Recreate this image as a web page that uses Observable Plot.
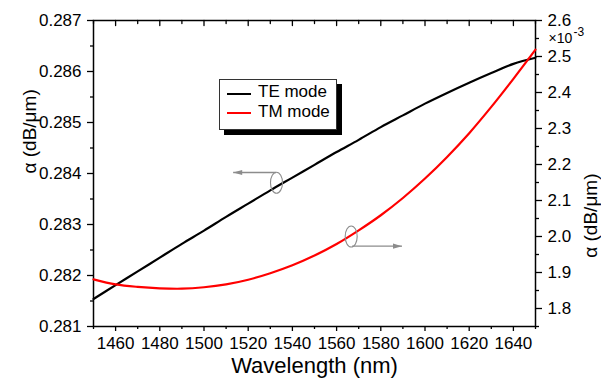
<!DOCTYPE html>
<html>
<head>
<meta charset="utf-8">
<script src="https://cdn.jsdelivr.net/npm/d3@7"></script>
<script src="https://cdn.jsdelivr.net/npm/@observablehq/plot@0.6"></script>
<style>
html, body { margin: 0; padding: 0; background: #fff; }
#wrap { position: relative; width: 601px; height: 382px; overflow: hidden; font-family: "Liberation Sans", Arial, sans-serif; }
#legend { position: absolute; left: 219px; top: 79px; width: 118px; height: 51px; box-sizing: border-box; border: 1px solid #333; background: #fff; box-shadow: 5px 5px 0 #000; }
.sw { position: absolute; left: 7px; width: 24px; height: 2px; }
.lt { position: absolute; left: 38px; font-size: 17px; line-height: 17px; white-space: nowrap; color: #000; }
</style>
</head>
<body>
<div id="wrap"></div>
<script>
// ---- data ----
const wavelength = [1450,1460,1470,1480,1490,1500,1510,1520,1530,1540,1550,1560,1570,1580,1590,1600,1610,1620,1630,1640,1650];
const teAlpha = [0.28154,0.28181,0.28208,0.28235,0.28262,0.28288,0.28315,0.28341,0.28367,0.28392,0.28417,0.28442,0.28466,0.28491,0.28514,0.28537,0.28558,0.28578,0.28597,0.28615,0.28627];
const tmAlpha = [1.881,1.867,1.860,1.856,1.855,1.859,1.867,1.880,1.898,1.920,1.947,1.979,2.017,2.059,2.107,2.161,2.221,2.287,2.360,2.438,2.519]; // ×10^-3 dB/µm
const seriesNames = ["TE mode", "TM mode"];
const seriesColors = ["#000000", "#ff0000"];

const xDomain = [1450, 1650];
const leftDomain = [0.281, 0.287];
const rightDomain = [1.75, 2.6];

const xMajor = [1460,1480,1500,1520,1540,1560,1580,1600,1620,1640];
const xMinor = [1450,1470,1490,1510,1530,1550,1570,1590,1610,1630,1650];
const leftMajor = [0.281,0.282,0.283,0.284,0.285,0.286,0.287];
const leftMinor = [0.2815,0.2825,0.2835,0.2845,0.2855,0.2865];
const rightMajor = [1.8,1.9,2.0,2.1,2.2,2.3,2.4,2.5,2.6];
const rightMinor = [1.75,1.85,1.95,2.05,2.15,2.25,2.35,2.45,2.55];

const xLabel = "Wavelength (nm)";
const yLabel = "α (dB/μm)";
const rightMultBase = "×10";
const rightMultExp = "-3";

// annotation marks (ellipse on curve + arrow pointing to its axis)
const ellipseX = [1532.8, 1566.6];
const ellipseV = [0.28382, 2.0];
const ellipseAxis = ["left", "right"];
const arrowFrom = [1532.6, 1567.0];
const arrowTo = [1513.2, 1589.6];
const arrowV = [0.28402, 1.973];

// ---- helpers ----
const toLeft = v => leftDomain[0] + (v - rightDomain[0]) / (rightDomain[1] - rightDomain[0]) * (leftDomain[1] - leftDomain[0]);
const fromLeft = v => rightDomain[0] + (v - leftDomain[0]) / (leftDomain[1] - leftDomain[0]) * (rightDomain[1] - rightDomain[0]);
const onLeft = (v, ax) => ax === "left" ? v : toLeft(v);

const te = wavelength.map((w, i) => ({w, v: teAlpha[i]}));
const tm = wavelength.map((w, i) => ({w, v: toLeft(tmAlpha[i])}));

const ellipses = ellipseX.map((x, i) => ({x, y: onLeft(ellipseV[i], ellipseAxis[i])}));
const arrows = arrowFrom.map((x1, i) => ({x1, x2: arrowTo[i], y: onLeft(arrowV[i], ellipseAxis[i])}));

const ellipseSymbol = {
  draw(ctx) {
    const rx = 6, ry = 10.5, k = 0.5523;
    ctx.moveTo(rx, 0);
    ctx.bezierCurveTo(rx, ry * k, rx * k, ry, 0, ry);
    ctx.bezierCurveTo(-rx * k, ry, -rx, ry * k, -rx, 0);
    ctx.bezierCurveTo(-rx, -ry * k, -rx * k, -ry, 0, -ry);
    ctx.bezierCurveTo(rx * k, -ry, rx, -ry * k, rx, 0);
    ctx.closePath();
  }
};
const headLeft = { draw(ctx) { ctx.moveTo(0, 0); ctx.lineTo(9, -2.6); ctx.lineTo(9, 2.6); ctx.closePath(); } };
const headRight = { draw(ctx) { ctx.moveTo(0, 0); ctx.lineTo(-9, -2.6); ctx.lineTo(-9, 2.6); ctx.closePath(); } };
// a plain tick stroke drawn downward from the anchor (used for inward ticks on the top frame)
const tickDown = { draw(ctx, l) { ctx.moveTo(0, 0); ctx.lineTo(0, l); } };

const fmt3 = d3.format(".3f");
const fmt1 = d3.format(".1f");
const gray = "#8c8c8c";

const chart = Plot.plot({
  width: 601,
  height: 382,
  marginLeft: 93,
  marginRight: 66,
  marginTop: 20,
  marginBottom: 56,
  x: {domain: xDomain},
  y: {domain: leftDomain},
  style: {fontFamily: '"Liberation Sans", Arial, sans-serif', fontSize: "17px", color: "#000", background: "#fff", overflow: "visible"},
  marks: [
    // bottom axis
    Plot.axisX({ticks: xMajor, tickSize: 5, tickPadding: 5, tickFormat: d => String(d), label: null, strokeWidth: 1.3, fontSize: 17}),
    Plot.axisX({ticks: xMinor, tickSize: 3, tickFormat: () => "", label: null, strokeWidth: 1.3}),
    // top frame: inward ticks
    Plot.vector(xMajor, {x: d => d, y: leftDomain[1], length: 5, anchor: "start", shape: tickDown, stroke: "#000", strokeWidth: 1.3}),
    Plot.vector(xMinor, {x: d => d, y: leftDomain[1], length: 3, anchor: "start", shape: tickDown, stroke: "#000", strokeWidth: 1.3}),
    // left axis
    Plot.axisY({ticks: leftMajor, tickSize: 6, tickPadding: 6, tickFormat: fmt3, label: null, strokeWidth: 1.3, fontSize: 17}),
    Plot.axisY({ticks: leftMinor, tickSize: 3, tickFormat: () => "", label: null, strokeWidth: 1.3}),
    // right axis
    Plot.axisY({anchor: "right", ticks: rightMajor.map(toLeft), tickSize: 6, tickPadding: 6, tickFormat: d => fmt1(fromLeft(d)), label: null, strokeWidth: 1.3, fontSize: 17}),
    Plot.axisY({anchor: "right", ticks: rightMinor.map(toLeft), tickSize: 3, tickFormat: () => "", label: null, strokeWidth: 1.3}),
    Plot.frame({stroke: "#000", strokeWidth: 1.5}),
    // series
    Plot.line(te, {x: "w", y: "v", stroke: seriesColors[0], strokeWidth: 2.2, curve: "catmull-rom"}),
    Plot.line(tm, {x: "w", y: "v", stroke: seriesColors[1], strokeWidth: 2.2, curve: "catmull-rom"}),
    // annotations
    Plot.dot(ellipses, {x: "x", y: "y", symbol: ellipseSymbol, fill: "none", stroke: gray, strokeWidth: 1.1}),
    Plot.link(arrows, {x1: "x1", x2: "x2", y1: "y", y2: "y", stroke: gray, strokeWidth: 1.3}),
    Plot.dot(arrows.slice(0, 1), {x: "x2", y: "y", symbol: headLeft, fill: gray, stroke: "none"}),
    Plot.dot(arrows.slice(1), {x: "x2", y: "y", symbol: headRight, fill: gray, stroke: "none"}),
    // labels
    Plot.text([xLabel], {text: d => d, frameAnchor: "bottom", lineAnchor: "middle", dy: 39, fontSize: 22}),
    Plot.text([yLabel], {text: d => d, frameAnchor: "left", lineAnchor: "middle", rotate: -90, dx: -64, fontSize: 19}),
    Plot.text([yLabel], {text: d => d, frameAnchor: "right", lineAnchor: "middle", rotate: -90, dx: 55, fontSize: 19}),
    Plot.text([rightMultBase], {text: d => d, frameAnchor: "top-right", textAnchor: "start", lineAnchor: "middle", dx: 13, dy: 18.5, fontSize: 14}),
    Plot.text([rightMultExp], {text: d => d, frameAnchor: "top-right", textAnchor: "start", lineAnchor: "middle", dx: 38, dy: 12, fontSize: 12})
  ]
});

const wrap = document.getElementById("wrap");
wrap.appendChild(chart);

// legend
const legend = document.createElement("div");
legend.id = "legend";
seriesNames.forEach((name, i) => {
  const sw = document.createElement("span");
  sw.className = "sw";
  sw.style.top = (13 + i * 19) + "px";
  sw.style.background = seriesColors[i];
  legend.appendChild(sw);
  const t = document.createElement("span");
  t.className = "lt";
  t.style.top = (3 + i * 19.5) + "px";
  t.textContent = name;
  legend.appendChild(t);
});
wrap.appendChild(legend);
</script>
</body>
</html>
